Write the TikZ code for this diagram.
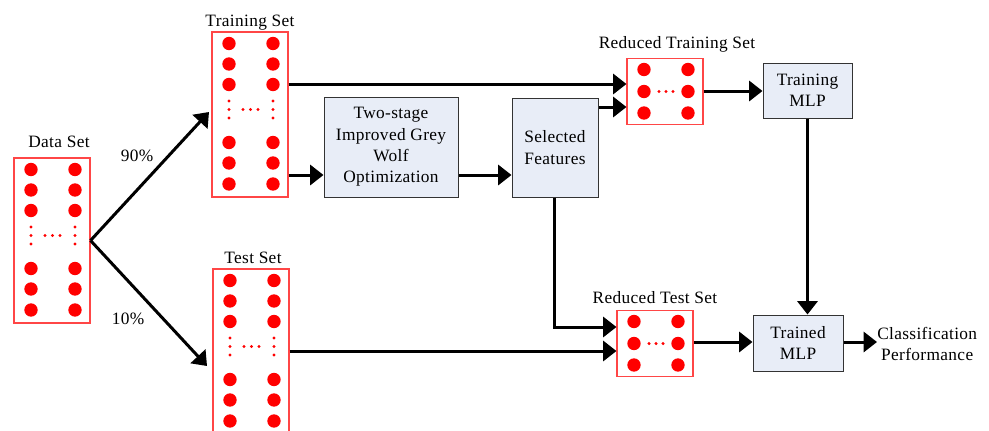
\documentclass[tikz,border=0pt]{standalone}
\usepackage{fontspec}
\setmainfont[LetterSpace=2]{Liberation Serif}
\usetikzlibrary{arrows.meta,calc}
\definecolor{boxfill}{RGB}{232,237,247}
\definecolor{dotred}{RGB}{255,0,0}
\definecolor{boxred}{RGB}{255,70,70}
\newcommand\tallset[1]{%
  \foreach \dy in {-71,-50.5,-30,28,48.5,69.5}{\foreach \dx in {-21,23}{\fill[dotred] ($(#1)+(\dx,\dy)$) circle (5pt);}}
  \foreach \dy in {-13.5,-5,3.5}{\foreach \dx in {-21,23}{\fill[dotred] ($(#1)+(\dx,\dy)$) circle (1.3pt);}}
  \foreach \dx in {-7,0.5,8}{\fill[dotred] ($(#1)+(\dx,-5)$) circle (1.3pt);}
}
\newcommand\wideset[1]{%
  \foreach \dy in {-22,0,21.5}{\foreach \dx in {-21,23}{\fill[dotred] ($(#1)+(\dx,\dy)$) circle (5pt);}}
  \foreach \dx in {-6,1,8}{\fill[dotred] ($(#1)+(\dx,0)$) circle (1.3pt);}
}
\begin{document}
\begin{tikzpicture}[x=0.75pt,y=-0.75pt,
  every node/.style={font=\fontsize{13}{16}\selectfont},
  redbox/.style={draw=boxred, line width=0.8pt, minimum width=57pt, minimum height=123.75pt, inner sep=0pt},
  redwide/.style={draw=boxred, line width=0.8pt, minimum width=57pt, minimum height=50pt, inner sep=0pt},
  bluebox/.style={draw=black!80, fill=boxfill, line width=0.75pt, align=center, inner sep=0pt},
  lbl/.style={anchor=base, inner sep=0pt},
  conn/.style={line width=2.25pt, -{Triangle[length=10pt,width=15pt]}}]
\useasboundingbox (0,0) rectangle (989,430);

% set boxes
\node[redbox] (data) at (52,240.5) {};
\node[redbox] (train) at (250,114.5) {};
\node[redbox] (test) at (251,351.5) {};
\node[redwide] (rtrain) at (665,91.5) {};
\node[redwide] (rtest) at (655,343.5) {};
\tallset{data}
\tallset{train}
\tallset{test}
\wideset{rtrain}
\wideset{rtest}

% labels
\node[lbl] (ldata) at (59,147) {Data Set};
\node[lbl] (ltrain) at (250,26) {Training Set};
\node[lbl] (ltest) at (253,263) {Test Set};
\node[lbl] (lrtrain) at (677,48) {Reduced Training Set};
\node[lbl] (lrtest) at (655,303) {Reduced Test Set};
\node[lbl] (p90) at (137,161) {90\%};
\node[lbl] (p10) at (128,324) {10\%};

% process boxes
\node[bluebox, minimum width=100.5pt, minimum height=75pt] (gwo) at (391,147) {Two-stage\\Improved Grey\\Wolf\\Optimization};
\node[bluebox, minimum width=64.5pt, minimum height=74.25pt] (sel) at (555,147.5) {Selected\\Features};
\node[bluebox, minimum width=66.75pt, minimum height=41.25pt] (tmlp) at (807.5,90.5) {Training\\MLP};
\node[bluebox, minimum width=67.5pt, minimum height=42pt] (trmlp) at (798,343) {Trained\\MLP};
\node[align=center, inner sep=0pt, anchor=west] (cls) at (877,344) {Classification\\Performance};

% connectors
\coordinate (uptip) at (209,112);
\coordinate (lowtip) at (207,366);
\draw[conn] (data.east) -- (uptip);
\draw[conn] (data.east) -- (lowtip);
\draw[conn] (train.east |- 0,84) -- (rtrain.west |- 0,84);
\draw[conn] (train.east |- 0,175) -- (gwo.west |- 0,175);
\draw[conn] (gwo.east |- 0,175) -- (sel.west |- 0,175);
\draw[conn] (sel.east |- 0,107) -- (rtrain.west |- 0,107);
\draw[conn] (rtrain.east |- 0,91) -- (tmlp.west |- 0,91);
\draw[conn] (tmlp.south) -- (tmlp.south |- trmlp.north);
\coordinate (selcorner) at (554,327);
\draw[conn] (sel.south -| selcorner) -- (selcorner) -- (rtest.west |- selcorner);
\draw[conn] (test.east |- 0,351) -- (rtest.west |- 0,351);
\draw[conn] (rtest.east |- 0,342) -- (trmlp.west |- 0,342);
\draw[conn] (trmlp.east |- 0,342) -- (cls.west |- 0,342);
\end{tikzpicture}
\end{document}
